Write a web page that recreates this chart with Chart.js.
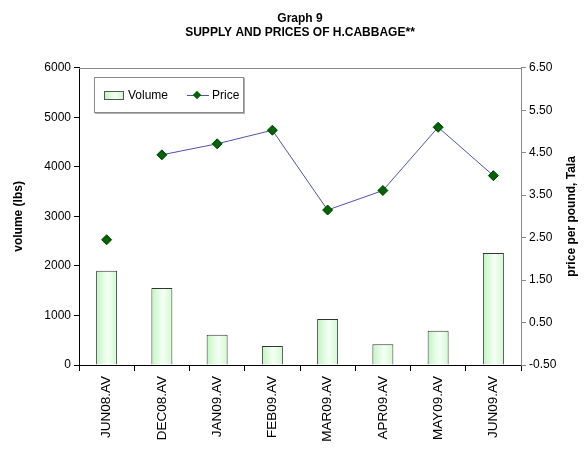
<!DOCTYPE html>
<html>
<head>
<meta charset="utf-8">
<script src="https://cdn.jsdelivr.net/npm/chart.js@4"></script>
<style>
  html, body { margin: 0; padding: 0; background: #fff; }
  #wrap { position: relative; width: 587px; height: 449px; font-family: "Liberation Sans", Arial, sans-serif; }
  #legend {
    position: absolute; left: 94px; top: 77px; width: 148px; height: 34px;
    border: 1px solid #8a8a8a; box-shadow: 1px 1px 0 #b0b0b0; background: #fff;
    font-size: 12px; color: #000; display: flex; align-items: center;
  }
  .item { display: flex; align-items: center; margin-left: 9px; }
  .swatch { width: 18px; height: 7px; border: 1px solid #555; margin-right: 4px;
    background: linear-gradient(to right, #c0f5c0, #f4fff4 55%, #d0f9d0); }
  .lineKey { position: relative; width: 22px; height: 9px; margin-right: 3px; margin-left: 10px; }
  .lineKey:before { content: ""; position: absolute; left: 0; right: 0; top: 4px; border-top: 1px solid #5050b0; }
  .lineKey:after { content: ""; position: absolute; left: 7px; top: 1px; width: 6px; height: 6px;
    background: #006400; transform: rotate(45deg); }
</style>
</head>
<body>
<div id="wrap">
  <canvas id="chart" width="587" height="449"></canvas>
  <div id="legend"></div>
</div>
<script>
// Data
const categories = ["JUN08.AV", "DEC08.AV", "JAN09.AV", "FEB09.AV", "MAR09.AV", "APR09.AV", "MAY09.AV", "JUN09.AV"];
const volume = [1905, 1555, 610, 385, 930, 420, 690, 2260];
const price = [2.45, 4.45, 4.71, 5.03, 3.15, 3.61, 5.10, 3.96];
const titleLines = ["Graph 9", "SUPPLY AND PRICES OF H.CABBAGE**"];
const rightTitle = "price per pound, Tala";

const lineColor = "#5050b0";
const barPct = 0.38;
const fontFamily = '"Liberation Sans", Arial, sans-serif';

// horizontal gradient for each bar, like the excel fill
function barFill(ctx) {
  const chart = ctx.chart;
  const x = chart.scales.x;
  if (!x || ctx.dataIndex === undefined) return "#e4fce4";
  const cx = x.getPixelForValue(ctx.dataIndex);
  const half = (x.width / categories.length) * barPct / 2;
  if (!isFinite(cx) || !isFinite(half) || half <= 0) return "#e4fce4";
  const g = chart.ctx.createLinearGradient(cx - half, 0, cx + half, 0);
  g.addColorStop(0, "#c0f5c0");
  g.addColorStop(0.55, "#f6fff6");
  g.addColorStop(1, "#d0f9d0");
  return g;
}

// grey line along the top of the plot area + right axis title read bottom-up
const extras = {
  id: "extras",
  afterDraw(chart) {
    const a = chart.chartArea;
    const c = chart.ctx;
    c.save();
    c.strokeStyle = "#8a8a8a";
    c.lineWidth = 1;
    c.beginPath();
    c.moveTo(a.left, Math.round(a.top) + 0.5);
    c.lineTo(a.right, Math.round(a.top) + 0.5);
    c.stroke();

    c.translate(chart.width - 15, (a.top + a.bottom) / 2);
    c.rotate(-Math.PI / 2);
    c.font = "bold 12px " + fontFamily;
    c.fillStyle = "#000";
    c.textAlign = "center";
    c.textBaseline = "middle";
    c.fillText(rightTitle, 0, 0);
    c.restore();
  }
};

Chart.defaults.font.family = fontFamily;
Chart.defaults.font.size = 12;
Chart.defaults.color = "#000";

const chart = new Chart(document.getElementById("chart"), {
  type: "bar",
  data: {
    labels: categories,
    datasets: [
      {
        type: "line",
        label: "Price",
        data: price,
        yAxisID: "y1",
        order: 0,
        borderColor: lineColor,
        borderWidth: 1,
        pointStyle: "rectRot",
        pointRadius: 5,
        pointBackgroundColor: "#006400",
        pointBorderColor: "#004000",
        pointBorderWidth: 1,
        segment: {
          borderColor: c => c.p0DataIndex === 0 ? "transparent" : lineColor
        }
      },
      {
        type: "bar",
        label: "Volume",
        data: volume,
        yAxisID: "y",
        order: 1,
        backgroundColor: barFill,
        borderColor: "#333",
        borderWidth: 1,
        barPercentage: barPct,
        categoryPercentage: 1
      }
    ]
  },
  options: {
    responsive: false,
    animation: false,
    layout: { padding: 0 },
    plugins: {
      legend: { display: false },
      tooltip: { enabled: false },
      title: {
        display: true,
        text: titleLines,
        fullSize: false,
        font: { size: 12, weight: "bold" },
        color: "#000",
        padding: { top: 11, bottom: 28 },
        lineHeight: 1.2
      }
    },
    scales: {
      x: {
        offset: true,
        grid: { display: true, offset: true, drawOnChartArea: false, tickLength: 6, color: "#000" },
        border: { color: "#000" },
        ticks: { maxRotation: 90, minRotation: 90, padding: 5, font: { size: 13.5 } },
        afterFit: s => { s.height = 84; }
      },
      y: {
        position: "left",
        min: 0,
        max: 6000,
        ticks: { stepSize: 1000, padding: 3, callback: v => String(v) },
        grid: { drawOnChartArea: false, tickLength: 5, color: "#000" },
        border: { color: "#000" },
        title: { display: true, text: "volume (lbs)", font: { size: 12, weight: "bold" }, padding: { top: 11 } },
        afterFit: s => { s.width = 79; }
      },
      y1: {
        position: "right",
        min: -0.5,
        max: 6.5,
        ticks: { stepSize: 1, padding: 3, callback: v => Number(v).toFixed(2) },
        grid: { drawOnChartArea: false, tickLength: 5, color: "#888" },
        border: { color: "#888" },
        afterFit: s => { s.width = 66; }
      }
    }
  },
  plugins: [extras]
});
// second pass so the bar gradients see the finished x scale
chart.update();

// legend built from the dataset labels
const legend = document.getElementById("legend");
const bars = chart.data.datasets[1];
const line = chart.data.datasets[0];
legend.innerHTML =
  '<div class="item"><span class="swatch"></span>' + bars.label + '</div>' +
  '<div class="item"><span class="lineKey"></span>' + line.label + '</div>';
</script>
</body>
</html>
